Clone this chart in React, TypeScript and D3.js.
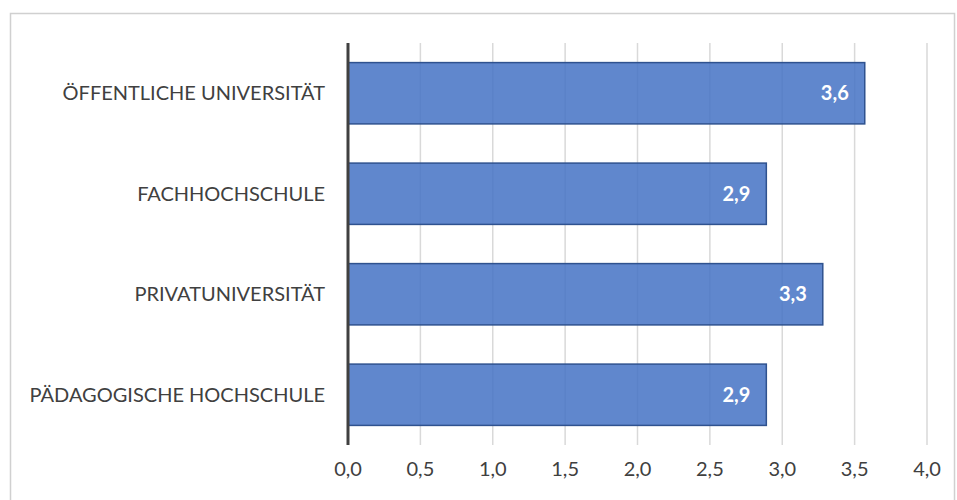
import React from "react";
import * as d3 from "d3";

const categories = [
  "ÖFFENTLICHE UNIVERSITÄT",
  "FACHHOCHSCHULE",
  "PRIVATUNIVERSITÄT",
  "PÄDAGOGISCHE HOCHSCHULE",
];
const values = [3.57, 2.89, 3.28, 2.89];
const valueLabels = ["3,6", "2,9", "3,3", "2,9"];
const ticks = [0, 0.5, 1, 1.5, 2, 2.5, 3, 3.5, 4];
const tickLabels = ["0,0", "0,5", "1,0", "1,5", "2,0", "2,5", "3,0", "3,5", "4,0"];

const W = 957;
const H = 500;
const FONT = "Lato, 'Open Sans', sans-serif";

export default function App() {
  const x = d3.scaleLinear().domain([0, 4]).range([348, 927]);
  const y = d3
    .scaleBand<string>()
    .domain(categories)
    .range([43, 445])
    .paddingInner(0.39)
    .paddingOuter(0.195);
  const top = 43;
  const bottom = 445;
  return (
    <svg
      width={W}
      height={H}
      style={{ position: "absolute", left: 0, top: 0, display: "block" }}
    >
      <rect x={0} y={0} width={W} height={H} fill="#ffffff" />
      <rect
        x={10.5}
        y={13.5}
        width={944}
        height={520}
        fill="none"
        stroke="#d0d0d0"
        strokeWidth={1.5}
      />
      {ticks.map((t, i) =>
        i === 0 ? null : (
          <line
            key={"g" + i}
            x1={x(t)}
            x2={x(t)}
            y1={top}
            y2={bottom}
            stroke="#d9d9d9"
            strokeWidth={1.5}
          />
        )
      )}
      {categories.map((c, i) => (
        <g key={c}>
          <rect
            x={x(0)}
            y={y(c)!}
            width={x(values[i]) - x(0)}
            height={y.bandwidth()}
            fill="#4472c4"
            fillOpacity={0.85}
            stroke="#2f528f"
            strokeWidth={1.5}
          />
          <text
            x={x(values[i]) - 16}
            y={y(c)! + y.bandwidth() / 2}
            dy="0.35em"
            textAnchor="end"
            fill="#ffffff"
            fontWeight="bold"
            fontSize={20}
            fontFamily={FONT}
          >
            {valueLabels[i]}
          </text>
          <text
            x={325}
            y={y(c)! + y.bandwidth() / 2}
            dy="0.35em"
            textAnchor="end"
            fill="#404040"
            fontSize={20}
            fontFamily={FONT}
          >
            {c}
          </text>
        </g>
      ))}
      <line
        x1={x(0)}
        x2={x(0)}
        y1={top}
        y2={bottom}
        stroke="#404040"
        strokeWidth={3}
      />
      {ticks.map((t, i) => (
        <text
          key={"t" + i}
          x={x(t)}
          y={469}
          dy="0.35em"
          textAnchor="middle"
          fill="#404040"
          fontSize={20}
          fontFamily={FONT}
        >
          {tickLabels[i]}
        </text>
      ))}
    </svg>
  );
}
